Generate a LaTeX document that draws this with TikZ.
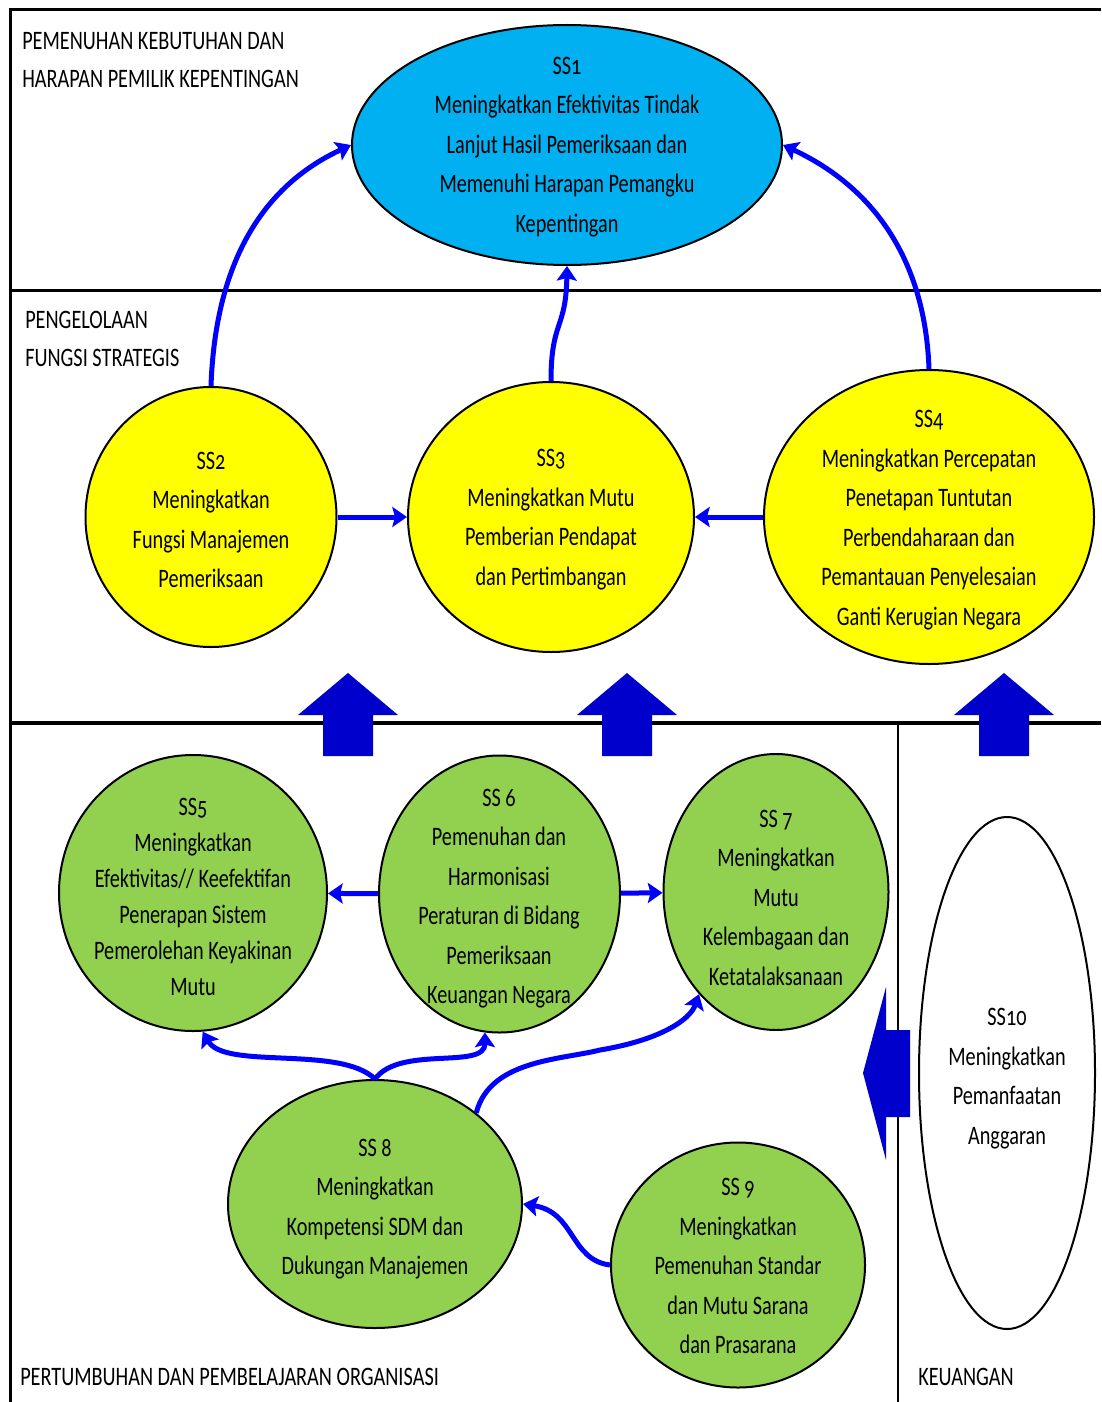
\documentclass[tikz,border=0pt]{standalone}
\usepackage{fontspec}
\setmainfont{Carlito}[FakeStretch=0.76,Numbers=OldStyle]
\usetikzlibrary{shapes.geometric,arrows.meta}
\definecolor{cyanfill}{HTML}{00B0F0}
\definecolor{yellowfill}{HTML}{FFFF00}
\definecolor{greenfill}{HTML}{92D050}
\definecolor{connblue}{HTML}{0000FF}
\definecolor{blockblue}{HTML}{0000CC}
\begin{document}
\begin{tikzpicture}[x=0.75pt,y=-0.75pt,
  ell/.style={ellipse, draw=black, line width=1.5pt, inner sep=0pt},
  txt/.style={align=center, font=\fontsize{20}{29.6}\selectfont, inner sep=0pt},
  txtb/.style={align=center, font=\fontsize{20}{27}\selectfont, inner sep=0pt},
  sect/.style={align=left, font=\fontsize{20}{29}\selectfont, inner sep=0pt, anchor=west},
  conn/.style={draw=connblue, line width=3.75pt, -{Stealth[length=11pt,width=15pt,inset=2pt]}},
  border/.style={draw=black, line width=2.25pt},
  blockarrow/.style={fill=blockblue, draw=none}
]
\useasboundingbox (0,0) rectangle (1101,1402);
\fill[white] (0,0) rectangle (1101,1402);

% frame lines
\draw[border] (1101,10) -- (10,10) -- (10,1402);
\draw[border] (10,290) -- (1101,290);
\draw[draw=black, line width=3pt] (10,723) -- (1101,723);
\draw[draw=black, line width=1.6pt] (898,723) -- (898,1402);

% section labels
\node[sect] (lab1) at (22,60) {PEMENUHAN KEBUTUHAN DAN\\HARAPAN PEMILIK KEPENTINGAN};
\node[sect, font=\fontsize{20}{28.5}\selectfont] (lab2) at (25,339) {PENGELOLAAN\\FUNGSI STRATEGIS};
\node[sect] (lab3) at (20,1377) {PERTUMBUHAN DAN PEMBELAJARAN ORGANISASI};
\node[sect] (lab4) at (918,1377) {KEUANGAN};

% ellipses
\node[ell, fill=cyanfill, minimum width=322.5pt, minimum height=180pt] (ss1) at (567,145) {};
\node[ell, fill=yellowfill, minimum width=188.25pt, minimum height=195pt] (ss2) at (211,517) {};
\node[ell, fill=yellowfill, minimum width=214.5pt, minimum height=202.5pt] (ss3) at (551,517) {};
\node[ell, fill=yellowfill, minimum width=247.5pt, minimum height=220.5pt] (ss4) at (929,517) {};
\node[ell, fill=greenfill, minimum width=201pt, minimum height=207pt] (ss5) at (193,893) {};
\node[ell, fill=greenfill, minimum width=180.75pt, minimum height=207.75pt] (ss6) at (499.5,894) {};
\node[ell, fill=greenfill, minimum width=168.75pt, minimum height=207pt] (ss7) at (776,892) {};
\node[ell, fill=greenfill, minimum width=220.5pt, minimum height=186pt] (ss8) at (375,1204) {};
\node[ell, fill=greenfill, minimum width=190.5pt, minimum height=183.75pt] (ss9) at (738,1265) {};
\node[ell, fill=white, minimum width=132pt, minimum height=384pt] (ss10) at (1007,1073) {};

% texts
\node[txt] (t1) at (567,147) {SS1\\Meningkatkan Efektivitas Tindak\\Lanjut Hasil Pemeriksaan dan\\Memenuhi Harapan Pemangku\\Kepentingan};
\node[txt] (t2) at (211,520) {SS2\\Meningkatkan\\Fungsi Manajemen\\Pemeriksaan};
\node[txt] (t3) at (551,519.5) {SS3\\Meningkatkan Mutu\\Pemberian Pendapat\\dan Pertimbangan};
\node[txt] (t4) at (929,520) {SS4\\Meningkatkan Percepatan\\Penetapan Tuntutan\\Perbendaharaan dan\\Pemantauan Penyelesaian\\Ganti Kerugian Negara};
\node[txtb] (t5) at (193,896.5) {SS5\\Meningkatkan\\Efektivitas// Keefektifan\\Penerapan Sistem\\Pemerolehan Keyakinan\\Mutu};
\node[txt] (t6) at (499,898.5) {SS 6\\Pemenuhan dan\\Harmonisasi\\Peraturan di Bidang\\Pemeriksaan\\Keuangan Negara};
\node[txt] (t7) at (776,897.5) {SS 7\\Meningkatkan\\Mutu\\Kelembagaan dan\\Ketatalaksanaan};
\node[txt] (t8) at (375,1209) {SS 8\\Meningkatkan\\Kompetensi SDM dan\\Dukungan Manajemen};
\node[txt] (t9) at (738,1266) {SS 9\\Meningkatkan\\Pemenuhan Standar\\dan Mutu Sarana\\dan Prasarana};
\node[txt] (t10) at (1007,1078.5) {SS10\\Meningkatkan\\Pemanfaatan\\Anggaran};

% block arrows
\foreach \cx in {348,627,1004}{
  \fill[blockarrow] (\cx,673) -- (\cx+50,715) -- (\cx+25,715) -- (\cx+25,756)
    -- (\cx-25,756) -- (\cx-25,715) -- (\cx-50,715) -- cycle;
}
\fill[blockarrow] (863,1073) -- (886,987) -- (886,1030) -- (910,1030) -- (910,1117)
  -- (886,1117) -- (886,1160) -- cycle;

% connectors
\draw[conn] (ss2.north) to[out=88,in=205] (ss1.west);
\draw[conn] (ss4.north) to[out=92,in=-25] (ss1.east);
\draw[conn] (ss3.north) .. controls (551,320) and (566,330) .. (ss1.south);
\draw[conn] (ss2) -- (ss3);
\draw[conn] (ss4) -- (ss3);
\draw[conn] (ss6) -- (ss5);
\draw[conn] (ss6) -- (ss7);
\draw[conn] (ss8.north) .. controls (340,1045) and (225,1070) .. (ss5.-86);
\draw[conn] (ss8.north) .. controls (400,1045) and (485,1070) .. (ss6.-96);
\draw[conn] (ss8.42) .. controls (490,1060) and (560,1060) .. (600,1050)
  .. controls (660,1040) and (690,1020) .. (ss7.-127);
\draw[conn] (ss9.west) .. controls (570,1260) and (575,1212) .. (ss8.east);
\end{tikzpicture}
\end{document}
